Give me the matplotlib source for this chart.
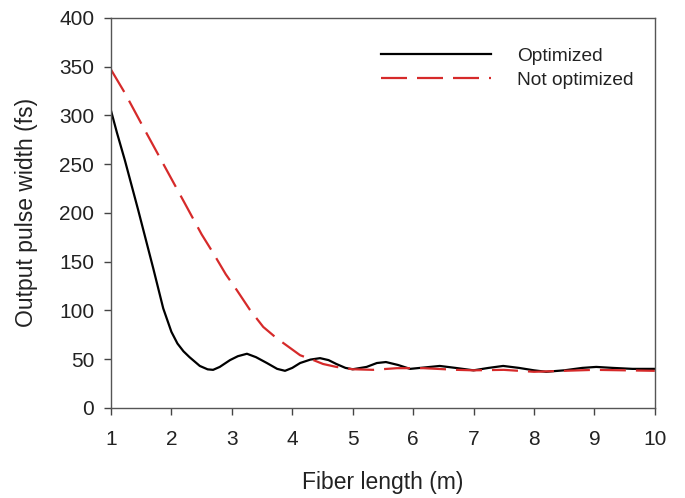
import matplotlib
matplotlib.use("Agg")
import matplotlib.pyplot as plt

plt.rcParams['font.family'] = ['Liberation Sans', 'DejaVu Sans']

# Optimized curve
opt_x = [1.0, 1.1, 1.23, 1.45, 1.7, 1.865, 2.0, 2.1, 2.2, 2.3, 2.47, 2.6, 2.69, 2.8, 2.97,
         3.1, 3.25, 3.4, 3.58, 3.75, 3.88, 4.0, 4.13, 4.3, 4.46, 4.6, 4.73, 4.88, 5.0,
         5.23, 5.4, 5.55, 5.75, 5.95, 6.2, 6.44, 6.7, 7.0, 7.25, 7.49, 7.75, 8.0, 8.2,
         8.5, 8.8, 9.03, 9.3, 9.63, 10.0]
opt_y = [305, 282, 254, 203, 143, 102, 78, 66, 58, 52, 43, 39.5, 39, 42, 49,
         53, 55.5, 52, 46, 40, 38, 41, 46, 49.5, 51, 49, 45, 41, 39.6,
         42, 46, 47, 44, 40, 41.5, 43, 41, 38.5, 41, 43, 41, 38.5, 37,
         38.5, 41, 42, 41, 40, 40]

# Not optimized curve
nopt_x = [1.0, 1.23, 1.56, 1.89, 2.22, 2.5, 2.69, 2.9, 3.08, 3.3, 3.52, 3.74, 3.93, 4.13,
          4.35, 4.51, 4.73, 5.0, 5.34, 5.73, 6.17, 6.72, 7.0, 7.5, 8.0, 8.5, 9.0, 9.5, 10.0]
nopt_y = [347, 323, 285, 247.5, 210, 178, 159, 137, 121, 100.5, 83, 71.5, 63, 54,
          49, 45, 42, 39.6, 39, 40.7, 40.7, 39, 38.5, 39, 37, 38, 39, 38.5, 38]

fig = plt.figure(figsize=(6.85, 4.98), dpi=100)
ax = fig.add_axes([0.162, 0.181, 0.794, 0.783])

ax.plot(opt_x, opt_y, color='black', lw=1.6, label='Optimized')
ax.plot(nopt_x, nopt_y, color='#d62a2a', lw=1.6, dashes=(11.7, 4.5), label='Not optimized')

ax.set_xlim(1, 10)
ax.set_ylim(0, 400)
ax.set_xticks(range(1, 11))
ax.set_yticks(range(0, 401, 50))
ax.tick_params(direction='out', length=5, width=1, labelsize=15, color='#444444',
               labelcolor='#222222', top=False, right=False)
ax.tick_params(axis='x', pad=11)
ax.tick_params(axis='y', pad=7)
for s in ax.spines.values():
    s.set_color('#555555')
    s.set_linewidth(1)

ax.set_xlabel('Fiber length (m)', fontsize=16.5, labelpad=16, color='#222222')
ax.set_ylabel('Output pulse width (fs)', fontsize=16.5, labelpad=15, color='#222222')

leg = ax.legend(loc='upper left', bbox_to_anchor=(0.496, 0.925), frameon=False, fontsize=13.8,
                handlelength=5.75, handletextpad=1.35, borderaxespad=0, borderpad=0, labelspacing=0.35)
for t in leg.get_texts():
    t.set_color('#222222')

fig.savefig('out.png', dpi=100)
